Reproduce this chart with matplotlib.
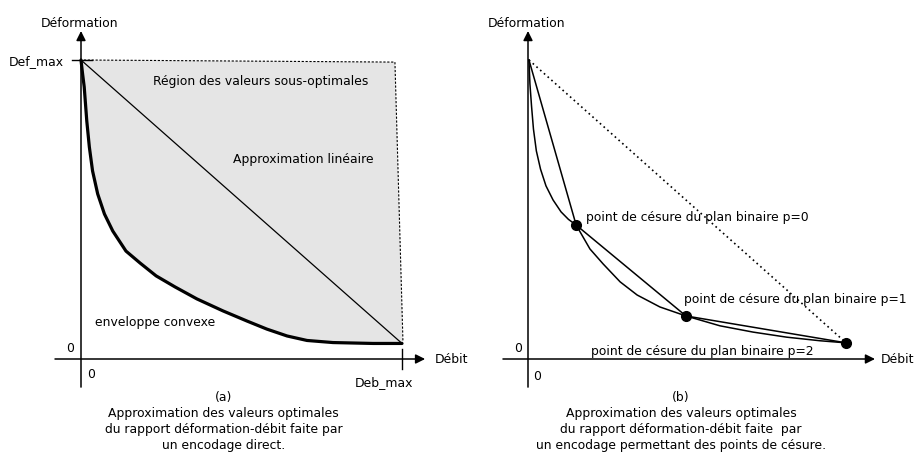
import numpy as np
import matplotlib.pyplot as plt

# (a) convex hull of the direct encoding (rate, distortion), normalised to Deb_max / Def_max
env_x = [0.0, 0.005, 0.010, 0.018, 0.026, 0.036, 0.052, 0.073, 0.099, 0.140, 0.184, 0.234,
         0.293, 0.361, 0.442, 0.517, 0.579, 0.642, 0.704, 0.785, 0.910, 1.0]
env_y = [1.0, 0.953, 0.910, 0.796, 0.709, 0.629, 0.552, 0.485, 0.428, 0.361, 0.321, 0.278,
         0.241, 0.201, 0.161, 0.127, 0.100, 0.077, 0.062, 0.055, 0.052, 0.052]
# sub-optimal region corners (top dashed edge, right dashed edge)
region_x = [0.009, 0.978, 1.003]
region_y = [1.0, 0.993, 0.057]
lin_x = [0.0, 1.0]
lin_y = [1.0, 0.052]

# (b) curve between truncation points
curve_x = [0.003, 0.006, 0.011, 0.017, 0.026, 0.039, 0.056, 0.078, 0.103, 0.126, 0.150,
           0.193, 0.234, 0.287, 0.340, 0.411, 0.492, 0.598, 0.701, 0.806, 0.910, 0.991]
curve_y = [1.0, 0.920, 0.846, 0.769, 0.696, 0.635, 0.579, 0.532, 0.492, 0.467, 0.448,
           0.368, 0.318, 0.258, 0.214, 0.174, 0.144, 0.111, 0.090, 0.073, 0.061, 0.054]
cut_x = [0.150, 0.492, 0.991]
cut_y = [0.448, 0.144, 0.054]
cut_labels = ['point de césure du plan binaire p=0',
              'point de césure du plan binaire p=1',
              'point de césure du plan binaire p=2']

caption_a = ['(a)', 'Approximation des valeurs optimales',
             'du rapport déformation-débit faite par', 'un encodage direct.']
caption_b = ['(b)', 'Approximation des valeurs optimales',
             'du rapport déformation-débit faite  par', 'un encodage permettant des points de césure.']

plt.rcParams['font.family'] = 'DejaVu Sans'
fs = 8.9

fig = plt.figure(figsize=(9.18, 4.56), dpi=100)
# 1 unit = 321 px horizontally, 299 px vertically
ax1 = fig.add_axes([0, 0, 0.5, 1])
ax2 = fig.add_axes([0.5, 0, 0.5, 1])
ax1.set_xlim(-81 / 321, (459 - 81) / 321)
ax2.set_xlim(-69 / 321, (459 - 69) / 321)
for ax in (ax1, ax2):
    ax.set_ylim(-96 / 299, 360 / 299)
    ax.axis('off')


def draw_axes(ax, x0, x1, y0, y1):
    arr = dict(arrowstyle='-|>', lw=1.1, color='k', mutation_scale=14, shrinkA=0, shrinkB=0)
    ax.annotate('', xy=(x1, 0), xytext=(x0, 0), arrowprops=arr)
    ax.annotate('', xy=(0, y1), xytext=(0, y0), arrowprops=arr)


# ---- (a) ----
ax = ax1
poly_x = env_x + region_x[::-1]
poly_y = env_y + region_y[::-1]
ax.fill(poly_x, poly_y, color='#e5e5e5', lw=0)
ax.plot(region_x, region_y, color='k', lw=0.8, ls=(0, (2, 1.5)))
ax.plot(env_x, env_y, color='k', lw=2.3, solid_capstyle='round', solid_joinstyle='round')
ax.plot(lin_x, lin_y, color='k', lw=0.9)
draw_axes(ax, -0.081, 1.072, -0.094, 1.097)
ax.plot([-0.028, 0.034], [1.0, 1.0], color='k', lw=1.0)
ax.plot([1.0, 1.0], [0.033, -0.033], color='k', lw=1.0)
ax.text(-0.006, 1.127, 'Déformation', fontsize=fs, ha='center', va='center')
ax.text(-0.053, 0.997, 'Def_max', fontsize=fs, ha='right', va='center')
ax.text(0.224, 0.93, 'Région des valeurs sous-optimales', fontsize=fs, va='center')
ax.text(0.474, 0.672, 'Approximation linéaire', fontsize=fs, va='center')
ax.text(0.044, 0.127, 'enveloppe convexe', fontsize=fs, va='center')
ax.text(-0.034, 0.04, '0', fontsize=fs, ha='center', va='center')
ax.text(0.031, -0.05, '0', fontsize=fs, ha='center', va='center')
ax.text(0.944, -0.074, 'Deb_max', fontsize=fs, ha='center', va='center')
ax.text(1.103, 0.0, 'Débit', fontsize=fs, va='center')
for i, line in enumerate(caption_a):
    ax.text(0.445, -0.127 - 0.0535 * i, line, fontsize=fs, ha='center', va='center')

# ---- (b) ----
ax = ax2
ax.plot([0.003, cut_x[-1]], [1.0, cut_y[-1]], color='k', lw=1.2, ls=(0, (1, 2)))
ax.plot(curve_x, curve_y, color='k', lw=1.1, solid_joinstyle='round')
ax.plot([0.003] + cut_x, [1.0] + cut_y, color='k', lw=1.1)
ax.plot(cut_x, cut_y, 'o', color='k', ms=7)
draw_axes(ax, -0.078, 1.081, -0.094, 1.097)
ax.text(-0.003, 1.127, 'Déformation', fontsize=fs, ha='center', va='center')
ax.text(-0.031, 0.04, '0', fontsize=fs, ha='center', va='center')
ax.text(0.028, -0.054, '0', fontsize=fs, ha='center', va='center')
ax.text(1.10, 0.0, 'Débit', fontsize=fs, va='center')
label_pos = [(0.181, 0.478), (0.486, 0.204), (0.196, 0.027)]
for (lx, ly), lab in zip(label_pos, cut_labels):
    ax.text(lx, ly, lab, fontsize=fs, va='center')
for i, line in enumerate(caption_b):
    ax.text(0.477, -0.127 - 0.0535 * i, line, fontsize=fs, ha='center', va='center')

fig.savefig('out.png', dpi=100)
